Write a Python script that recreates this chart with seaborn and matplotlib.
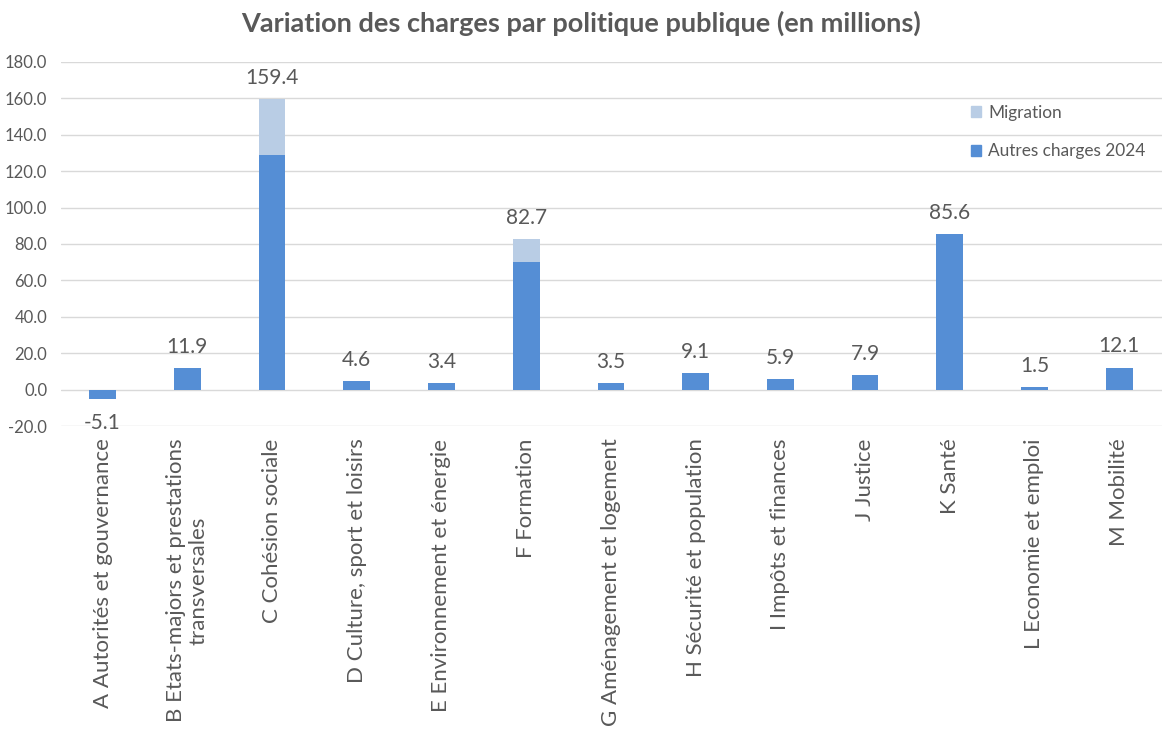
import matplotlib
matplotlib.use("Agg")
import matplotlib.pyplot as plt
import seaborn as sns
import pandas as pd
from matplotlib.patches import Patch

categories = [
    "A Autorités et gouvernance",
    "B Etats-majors et prestations\ntransversales",
    "C Cohésion sociale",
    "D Culture, sport et loisirs",
    "E Environnement et énergie",
    "F Formation",
    "G Aménagement et logement",
    "H Sécurité et population",
    "I Impôts et finances",
    "J Justice",
    "K Santé",
    "L Economie et emploi",
    "M Mobilité",
]
autres = [-5.1, 11.9, 129.0, 4.6, 3.4, 70.2, 3.5, 9.1, 5.9, 7.9, 85.6, 1.5, 12.1]
migration = [0, 0, 30.4, 0, 0, 12.5, 0, 0, 0, 0, 0, 0, 0]
totals_lbl = [-5.1, 11.9, 159.4, 4.6, 3.4, 82.7, 3.5, 9.1, 5.9, 7.9, 85.6, 1.5, 12.1]
yticks = [-20, 0, 20, 40, 60, 80, 100, 120, 140, 160, 180]

sns.set_theme(style="white")
plt.rcParams['font.family'] = ['Lato', 'DejaVu Sans']

dark = "#558ED5"
light = "#B9CDE5"
grey = "#595959"

df = pd.DataFrame({
    "cat": categories,
    "autres": autres,
    "total": [a + m for a, m in zip(autres, migration)],
})

fig = plt.figure(figsize=(11.63, 7.44), dpi=100)
ax = fig.add_axes([0.0525, 0.4274, 0.947, 0.4893])

sns.barplot(data=df, x="cat", y="total", color=light, width=0.315,
            saturation=1, ax=ax, zorder=3, linewidth=0)
sns.barplot(data=df, x="cat", y="autres", color=dark, width=0.315,
            saturation=1, ax=ax, zorder=4, linewidth=0)

ax.set_ylim(-20, 180)
ax.set_yticks(yticks)
ax.set_yticklabels([f"{v:.1f}" for v in yticks], color=grey, fontsize=12)
ax.yaxis.grid(True, color="#D9D9D9", linewidth=1, zorder=0)
ax.set_axisbelow(True)
for s in ax.spines.values():
    s.set_visible(False)
ax.tick_params(axis="y", length=0, pad=10)
ax.tick_params(axis="x", length=0, pad=9)
ax.set_xlim(-0.49, 12.51)
ax.set_xlabel("")
ax.set_ylabel("")
ax.set_xticks(range(len(categories)))
ax.set_xticklabels(categories, rotation=90, ha="center", va="top",
                   multialignment="center", color=grey, fontsize=16)

for i, v in enumerate(totals_lbl):
    if v >= 0:
        ax.annotate(f"{v:.1f}", (i, v), xytext=(0, 8), textcoords="offset points",
                    ha="center", va="bottom", color=grey, fontsize=15)
    else:
        ax.annotate(f"{v:.1f}", (i, v), xytext=(0, -10), textcoords="offset points",
                    ha="center", va="top", color=grey, fontsize=15)

handles = [Patch(color=light, label="Migration"),
           Patch(color=dark, label="Autres charges 2024")]
ax.legend(handles=handles, loc="upper left", bbox_to_anchor=(0.812, 0.925),
          frameon=False, fontsize=12.4, labelcolor=grey, handlelength=0.6,
          handleheight=0.6, handletextpad=0.4, labelspacing=1.3)

fig.text(0.5, 0.968, "Variation des charges par politique publique (en millions)",
         ha="center", va="center", fontsize=19.5, fontweight="bold", color=grey)

fig.savefig("out.png", dpi=100)
